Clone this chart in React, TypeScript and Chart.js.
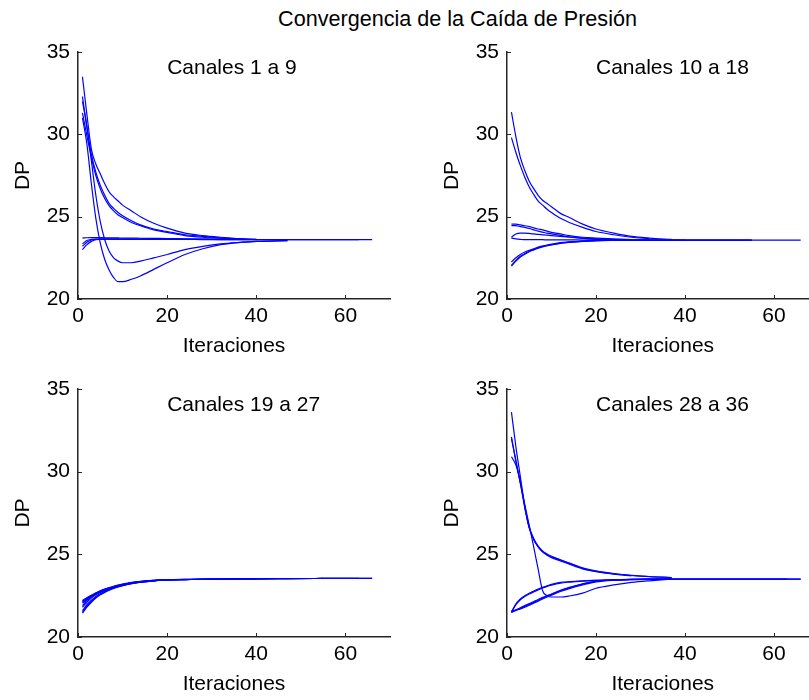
import React, { useEffect, useRef } from 'react';
import { Chart, registerables } from 'chart.js';

Chart.register(...registerables);

const _ = null;

// Iteration numbers at which the curves were read
const ITER = [1, 2, 3, 4, 5, 6, 7, 8, 9, 10, 12, 14, 17, 20, 24, 28, 32, 37, 40, 47, 55, 63, 66];

const X_TICKS = [0, 20, 40, 60];
const Y_TICKS = [20, 25, 30, 35];

const MAIN_TITLE = 'Convergencia de la Caída de Presión';
const PANEL_TITLES = ['Canales 1 a 9', 'Canales 10 a 18', 'Canales 19 a 27', 'Canales 28 a 36'];
const X_LABEL = 'Iteraciones';
const Y_LABEL = 'DP';

// ---- Canales 1 a 9 ----
const P1_S1 = [33.5, 31.2, 29.1, 28.2, 27.6, 27.0, 26.5, 26.2, 25.95, 25.7, 25.35, 25.0, 24.6, 24.3, 24.0, 23.85, 23.75, 23.65, 23.62, _, _, _, _];
const P1_S2 = [32.3, 30.4, 28.8, 27.7, 26.9, 26.3, 25.8, 25.5, 25.25, 25.05, 24.75, 24.5, 24.25, 24.1, 23.9, 23.8, 23.7, 23.65, _, _, _, _, _];
const P1_S3 = [31.3, 29.9, 28.6, 27.5, 26.7, 26.1, 25.65, 25.35, 25.1, 24.95, 24.65, 24.45, 24.2, 24.05, 23.85, 23.75, 23.7, 23.65, 23.62, _, _, _, _];
const P1_S4 = [31.0, 29.4, 27.0, 24.9, 23.4, 22.4, 21.75, 21.3, 21.05, 21.05, 21.2, 21.4, 21.8, 22.2, 22.7, 23.05, 23.3, 23.45, 23.5, 23.55, _, _, _];
const P1_S5 = [32.0, 30.5, 28.4, 26.3, 24.7, 23.6, 22.9, 22.5, 22.3, 22.2, 22.2, 22.3, 22.5, 22.7, 23.0, 23.2, 23.35, 23.45, 23.5, 23.55, _, _, _];
const P1_S6 = [23.0, 23.3, 23.5, 23.6, 23.62, 23.63, 23.63, 23.63, 23.63, 23.63, 23.63, 23.63, 23.62, 23.62, 23.62, 23.61, 23.61, 23.6, 23.6, 23.6, 23.6, 23.6, 23.6];
const P1_S7 = [23.2, 23.45, 23.58, 23.62, 23.64, 23.65, 23.65, 23.65, 23.65, 23.64, 23.64, 23.64, 23.63, 23.63, 23.62, 23.62, 23.61, 23.61, 23.6, 23.6, 23.6, 23.6, _];
const P1_S8 = [23.7, 23.72, 23.73, 23.73, 23.73, 23.72, 23.72, 23.72, 23.71, 23.7, 23.7, 23.69, 23.68, 23.67, 23.65, 23.64, 23.63, 23.62, _, _, _, _, _];
const P1_S9 = [23.35, 23.55, 23.62, 23.64, 23.64, 23.64, 23.64, 23.64, 23.64, 23.63, 23.63, 23.63, 23.63, 23.62, 23.62, 23.62, 23.62, _, _, _, _, _, _];

// ---- Canales 10 a 18 ----
const P2_S1 = [31.35, 29.85, 28.6, 27.8, 27.15, 26.7, 26.3, 26.0, 25.8, 25.6, 25.2, 24.95, 24.55, 24.25, 24.0, 23.8, 23.7, 23.62, _, _, _, _, _];
const P2_S2 = [29.8, 28.9, 28.1, 27.4, 26.8, 26.35, 25.95, 25.7, 25.45, 25.25, 24.9, 24.65, 24.35, 24.1, 23.9, 23.75, 23.67, _, _, _, _, _, _];
const P2_S3 = [24.55, 24.55, 24.5, 24.45, 24.4, 24.32, 24.25, 24.2, 24.12, 24.05, 23.95, 23.85, 23.75, 23.7, 23.65, 23.6, _, _, _, _, _, _, _];
const P2_S4 = [24.45, 24.45, 24.4, 24.35, 24.28, 24.2, 24.12, 24.06, 24.0, 23.95, 23.86, 23.78, 23.7, 23.65, 23.6, 23.58, 23.57, _, _, _, _, _, _];
const P2_S5 = [23.75, 23.95, 24.0, 24.0, 23.98, 23.95, 23.92, 23.9, 23.88, 23.85, 23.8, 23.75, 23.68, 23.62, 23.6, 23.58, 23.57, 23.57, 23.57, 23.57, 23.57, _, _];
const P2_S6 = [22.05, 22.35, 22.6, 22.75, 22.9, 23.0, 23.1, 23.2, 23.25, 23.3, 23.4, 23.45, 23.5, 23.55, 23.57, 23.57, 23.57, 23.57, 23.57, 23.57, 23.57, 23.57, 23.57];
const P2_S7 = [22.25, 22.5, 22.7, 22.85, 22.95, 23.05, 23.15, 23.22, 23.28, 23.33, 23.42, 23.47, 23.52, 23.55, 23.57, 23.57, 23.57, 23.57, 23.57, 23.57, 23.57, _, _];
const P2_S8 = [23.7, 23.65, 23.62, 23.6, 23.6, 23.6, 23.6, 23.6, 23.59, 23.59, 23.59, 23.59, 23.58, 23.58, _, _, _, _, _, _, _, _, _];
const P2_S9 = [22.0, 22.3, 22.55, 22.72, 22.87, 22.98, 23.08, 23.17, 23.23, 23.28, 23.38, 23.44, 23.5, 23.54, 23.56, 23.57, 23.57, 23.57, 23.57, _, _, _, _];

// ---- Canales 19 a 27 ----
const P3_S1 = [22.15, 22.35, 22.5, 22.65, 22.78, 22.88, 22.97, 23.05, 23.12, 23.18, 23.28, 23.35, 23.42, 23.46, 23.48, 23.5, 23.5, 23.52, 23.52, 23.53, 23.54, 23.55, 23.55];
const P3_S2 = [22.05, 22.25, 22.42, 22.58, 22.72, 22.83, 22.93, 23.01, 23.08, 23.15, 23.26, 23.33, 23.41, 23.45, 23.47, 23.49, 23.5, 23.51, 23.52, 23.53, 23.54, 23.55, _];
const P3_S3 = [21.45, 21.8, 22.1, 22.35, 22.55, 22.7, 22.83, 22.94, 23.03, 23.1, 23.22, 23.31, 23.4, 23.45, 23.47, 23.49, 23.5, 23.51, 23.52, _, _, _, _];
const P3_S4 = [21.6, 21.95, 22.22, 22.45, 22.62, 22.76, 22.88, 22.98, 23.06, 23.13, 23.24, 23.32, 23.4, 23.45, _, _, _, _, _, _, _, _, _];
const P3_S5 = [21.8, 22.1, 22.35, 22.55, 22.7, 22.82, 22.92, 23.0, 23.07, 23.14, 23.25, 23.33, 23.41, 23.45, 23.47, 23.49, 23.5, 23.51, 23.52, _, _, _, _];
const P3_S6 = [22.1, 22.3, 22.48, 22.62, 22.75, 22.86, 22.95, 23.03, 23.1, 23.16, 23.27, 23.34, 23.41, 23.45, _, _, _, _, _, _, _, _, _];
const P3_S7 = [21.9, 22.2, 22.42, 22.6, 22.74, 22.85, 22.95, 23.03, 23.1, 23.16, 23.27, 23.35, 23.42, _, _, _, _, _, _, _, _, _, _];
const P3_S8 = [21.5, 21.85, 22.15, 22.4, 22.58, 22.73, 22.85, 22.96, 23.04, 23.11, 23.23, 23.32, 23.4, 23.45, 23.47, 23.49, 23.5, 23.51, 23.52, 23.53, 23.54, 23.55, 23.55];
const P3_S9 = [22.2, 22.38, 22.53, 22.67, 22.8, 22.9, 22.99, 23.07, 23.14, 23.2, 23.3, 23.37, 23.43, 23.47, 23.49, 23.5, 23.5, 23.51, 23.52, 23.53, 23.54, _, _];

// ---- Canales 28 a 36 ----
const P4_S1 = [33.6, 31.5, 29.7, 27.9, 26.6, 25.9, 25.45, 25.15, 24.98, 24.85, 24.65, 24.45, 24.15, 23.97, 23.82, 23.72, 23.65, 23.6, _, _, _, _, _];
const P4_S2 = [30.9, 30.4, 29.4, 27.9, 26.65, 25.95, 25.5, 25.2, 25.02, 24.88, 24.67, 24.47, 24.18, 24.0, 23.84, 23.73, 23.66, 23.6, _, _, _, _, _];
const P4_S3 = [32.1, 30.6, 29.3, 28.0, 26.75, 25.45, 24.1, 22.8, 22.5, 22.42, 22.42, 22.48, 22.65, 22.95, 23.15, 23.3, 23.4, 23.5, _, _, _, _, _];
const P4_S4 = [32.0, 30.7, 29.3, 27.8, 26.6, 25.9, 25.45, 25.15, 24.95, 24.8, 24.6, 24.4, 24.12, 23.95, 23.8, 23.7, _, _, _, _, _, _, _];
const P4_S5 = [21.5, 22.0, 22.3, 22.5, 22.65, 22.78, 22.9, 23.0, 23.1, 23.18, 23.3, 23.35, 23.4, 23.43, 23.46, 23.48, 23.5, 23.52, _, _, _, _, _];
const P4_S6 = [21.5, 21.62, 21.73, 21.85, 21.97, 22.1, 22.22, 22.35, 22.47, 22.58, 22.8, 22.98, 23.2, 23.37, 23.45, 23.48, 23.5, 23.5, 23.5, 23.5, 23.5, 23.5, 23.5];
const P4_S7 = [21.5, 21.6, 21.7, 21.8, 21.92, 22.05, 22.17, 22.3, 22.42, 22.53, 22.75, 22.93, 23.15, 23.33, 23.43, 23.47, 23.49, 23.5, 23.5, 23.5, 23.5, 23.5, 23.5];
const P4_S8 = [21.55, 21.65, 21.77, 21.9, 22.02, 22.15, 22.27, 22.4, 22.5, 22.6, 22.82, 23.0, 23.22, 23.38, 23.46, 23.49, 23.5, 23.5, 23.5, 23.5, 23.5, 23.5, _];
const P4_S9 = [21.5, 21.95, 22.25, 22.45, 22.6, 22.73, 22.85, 22.96, 23.06, 23.14, 23.26, 23.32, 23.38, 23.42, 23.45, 23.47, 23.49, _, _, _, _, _, _];

const PANEL_SERIES = [
  [P1_S1, P1_S2, P1_S3, P1_S4, P1_S5, P1_S6, P1_S7, P1_S8, P1_S9],
  [P2_S1, P2_S2, P2_S3, P2_S4, P2_S5, P2_S6, P2_S7, P2_S8, P2_S9],
  [P3_S1, P3_S2, P3_S3, P3_S4, P3_S5, P3_S6, P3_S7, P3_S8, P3_S9],
  [P4_S1, P4_S2, P4_S3, P4_S4, P4_S5, P4_S6, P4_S7, P4_S8, P4_S9],
];

const FONT = '"Liberation Sans", Arial, Helvetica, sans-serif';
const FONT_SIZE = 21;
const TEXT_COLOR = '#000000';
const AXIS_COLOR = '#262626';
const LINE_COLOR = '#0000ff';

type PanelGeom = { left: number; top: number; width: number; height: number; padTop: number; padRight: number };

const GEOMS: PanelGeom[] = [
  { left: 0, top: 30, width: 400, height: 340, padTop: 22, padRight: 10 },
  { left: 429, top: 30, width: 400, height: 340, padTop: 22, padRight: 10.5 },
  { left: 0, top: 367, width: 400, height: 341, padTop: 22, padRight: 10 },
  { left: 429, top: 367, width: 400, height: 341, padTop: 22, padRight: 10.5 },
];

function Panel({ series, title, geom }: { series: (number | null)[][]; title: string; geom: PanelGeom }) {
  const ref = useRef<HTMLCanvasElement | null>(null);

  useEffect(() => {
    if (!ref.current) return;

    const innerTicks = {
      id: 'innerTicks',
      afterDraw(chart: any) {
        const { ctx, chartArea, scales } = chart;
        const xs = scales.x;
        const ys = scales.y;
        ctx.save();
        ctx.strokeStyle = AXIS_COLOR;
        ctx.lineWidth = 1;
        X_TICKS.forEach((v) => {
          const px = Math.round(xs.getPixelForValue(v)) + 0.5;
          ctx.beginPath();
          ctx.moveTo(px, chartArea.bottom);
          ctx.lineTo(px, chartArea.bottom - 4);
          ctx.stroke();
        });
        Y_TICKS.forEach((v) => {
          const py = Math.round(ys.getPixelForValue(v)) + 0.5;
          ctx.beginPath();
          ctx.moveTo(chartArea.left, py);
          ctx.lineTo(chartArea.left + 4, py);
          ctx.stroke();
        });
        ctx.restore();
      },
    };

    const subTitle = {
      id: 'subTitle',
      afterDraw(chart: any) {
        const { ctx, scales } = chart;
        ctx.save();
        ctx.font = `${FONT_SIZE}px ${FONT}`;
        ctx.fillStyle = TEXT_COLOR;
        ctx.textAlign = 'left';
        ctx.textBaseline = 'middle';
        ctx.fillText(title, scales.x.getPixelForValue(20), scales.y.getPixelForValue(34));
        ctx.restore();
      },
    };

    const chart = new Chart(ref.current, {
      type: 'line',
      data: {
        datasets: series.map((vals, k) => ({
          label: `${title} ${k + 1}`,
          data: ITER.map((x, i) => ({ x, y: vals[i] })).filter((p) => p.y !== null) as any,
          borderColor: LINE_COLOR,
          borderWidth: 1.2,
          pointRadius: 0,
          fill: false,
          cubicInterpolationMode: 'monotone' as const,
        })),
      },
      options: {
        animation: false,
        responsive: false,
        maintainAspectRatio: false,
        layout: { padding: { top: geom.padTop, right: geom.padRight, left: 0, bottom: 0 } },
        plugins: { legend: { display: false }, tooltip: { enabled: false }, title: { display: false } },
        scales: {
          x: {
            type: 'linear',
            min: 0,
            max: 70,
            grid: { display: false, drawTicks: false },
            border: { display: true, color: AXIS_COLOR, width: 1.5 },
            ticks: {
              stepSize: 20,
              includeBounds: false,
              padding: 5,
              color: TEXT_COLOR,
              font: { family: FONT, size: FONT_SIZE },
              maxRotation: 0,
            },
            title: {
              display: true,
              text: X_LABEL,
              color: TEXT_COLOR,
              font: { family: FONT, size: FONT_SIZE },
              padding: { top: 0, bottom: 11 },
            },
            afterFit: (s: any) => {
              s.height = 71;
            },
          },
          y: {
            type: 'linear',
            min: 20,
            max: 35,
            grid: { display: false, drawTicks: false },
            border: { display: true, color: AXIS_COLOR, width: 1.5 },
            ticks: {
              stepSize: 5,
              padding: 8,
              color: TEXT_COLOR,
              font: { family: FONT, size: FONT_SIZE },
            },
            title: {
              display: true,
              text: Y_LABEL,
              color: TEXT_COLOR,
              font: { family: FONT, size: FONT_SIZE },
              padding: { top: 11, bottom: 0 },
            },
            afterFit: (s: any) => {
              s.width = 78;
            },
          },
        },
      } as any,
      plugins: [innerTicks, subTitle],
    });

    return () => chart.destroy();
  }, [series, title, geom]);

  return (
    <canvas
      ref={ref}
      width={geom.width}
      height={geom.height}
      style={{ position: 'absolute', left: geom.left, top: geom.top, width: geom.width, height: geom.height }}
    />
  );
}

export default function App() {
  return (
    <div
      style={{
        position: 'fixed',
        left: 0,
        top: 0,
        width: 809,
        height: 700,
        overflow: 'hidden',
        background: '#ffffff',
      }}
    >
      <div
        style={{
          position: 'absolute',
          left: 457.5,
          top: 6,
          transform: 'translateX(-50%)',
          whiteSpace: 'nowrap',
          fontFamily: FONT,
          fontSize: 21.6,
          lineHeight: '25.2px',
          color: TEXT_COLOR,
        }}
      >
        {MAIN_TITLE}
      </div>
      {PANEL_SERIES.map((s, i) => (
        <Panel key={i} series={s} title={PANEL_TITLES[i]} geom={GEOMS[i]} />
      ))}
    </div>
  );
}
